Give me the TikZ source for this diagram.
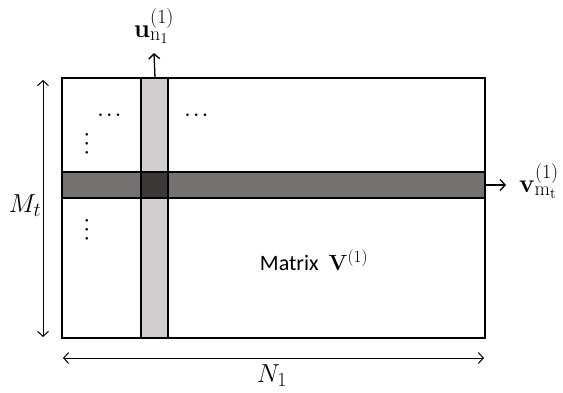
\documentclass[tikz,border=0pt]{standalone}
\usepackage{fix-cm}
\usepackage{amsmath}
\usepackage[no-math]{fontspec}
\setmainfont{Carlito}
\usetikzlibrary{arrows.meta,positioning}
\DeclareMathSizes{26}{26}{20}{15}
\DeclareMathSizes{22}{22}{17}{13}
\definecolor{colgray}{HTML}{D0CECE}
\definecolor{rowgray}{HTML}{767171}
\definecolor{crossgray}{HTML}{3B3838}
\tikzset{
  edge/.style ={draw,line width=1.5pt},
  ar/.style   ={-{Straight Barb[length=5pt,width=11pt]},line width=1.3pt},
  dimar/.style={{Straight Barb[length=5pt,width=11pt]}-{Straight Barb[length=5pt,width=11pt]},line width=1pt},
  lbl/.style  ={font=\fontsize{26}{30}\selectfont,inner sep=1pt},
  dots/.style ={font=\fontsize{17}{20}\selectfont\boldmath,inner sep=0pt},
}

\begin{document}
\begin{tikzpicture}[x=1pt,y=-1pt]
\useasboundingbox (0,0) rectangle (563,392);
% matrix corners
\coordinate (NW) at (62,78);
\coordinate (SE) at (485,338);
% highlighted column and row
\fill[colgray] (141,78) rectangle (168,338);
\fill[rowgray] (62,172) rectangle (485,198);
\fill[crossgray] (141,172) rectangle (168,198);
\draw[edge] (141,78) -- (141,338) (168,78) -- (168,338);
\draw[edge] (62,172) -- (485,172) (62,198) -- (485,198);
\draw[edge] (NW) rectangle (SE);
% dots
\node[dots] (hd1) at (111,115) {$\cdots$};
\node[dots] (hd2) at (198,115) {$\cdots$};
\node[dots,rotate=90] (vd1) at (87,142) {$\cdots$};
\node[dots,rotate=90] (vd2) at (87,228) {$\cdots$};
% matrix name
\node[font=\fontsize{22}{26}\selectfont] (name) at (314,260) {Matrix\ \ $\mathbf{V}^{(1)}$};
% column vector
\coordinate (ctop) at (155,78);
\node[lbl] (u) at (154,26) {$\mathbf{u}_{\mathrm{n}_1}^{(1)}$};
\draw[ar] (ctop) -- (u.south |- 0,53);
% row vector
\coordinate (rend) at (485,185);
\node[lbl] (v) at (539,181) {$\mathbf{v}_{\mathrm{m}_\mathrm{t}}^{(1)}$};
\draw[ar] (rend) -- (506,185);
% dimensions
\coordinate (mtop) at (43,80);
\coordinate (mbot) at (43,337);
\draw[dimar] (mtop) -- (mbot);
\node[lbl] (Mt) at (25,206) {$M_t$};
\coordinate (nl) at (63,358);
\coordinate (nr) at (484,358);
\draw[dimar] (nl) -- (nr);
\node[lbl] (N1) at (272,376) {$N_1$};
\end{tikzpicture}
\end{document}
